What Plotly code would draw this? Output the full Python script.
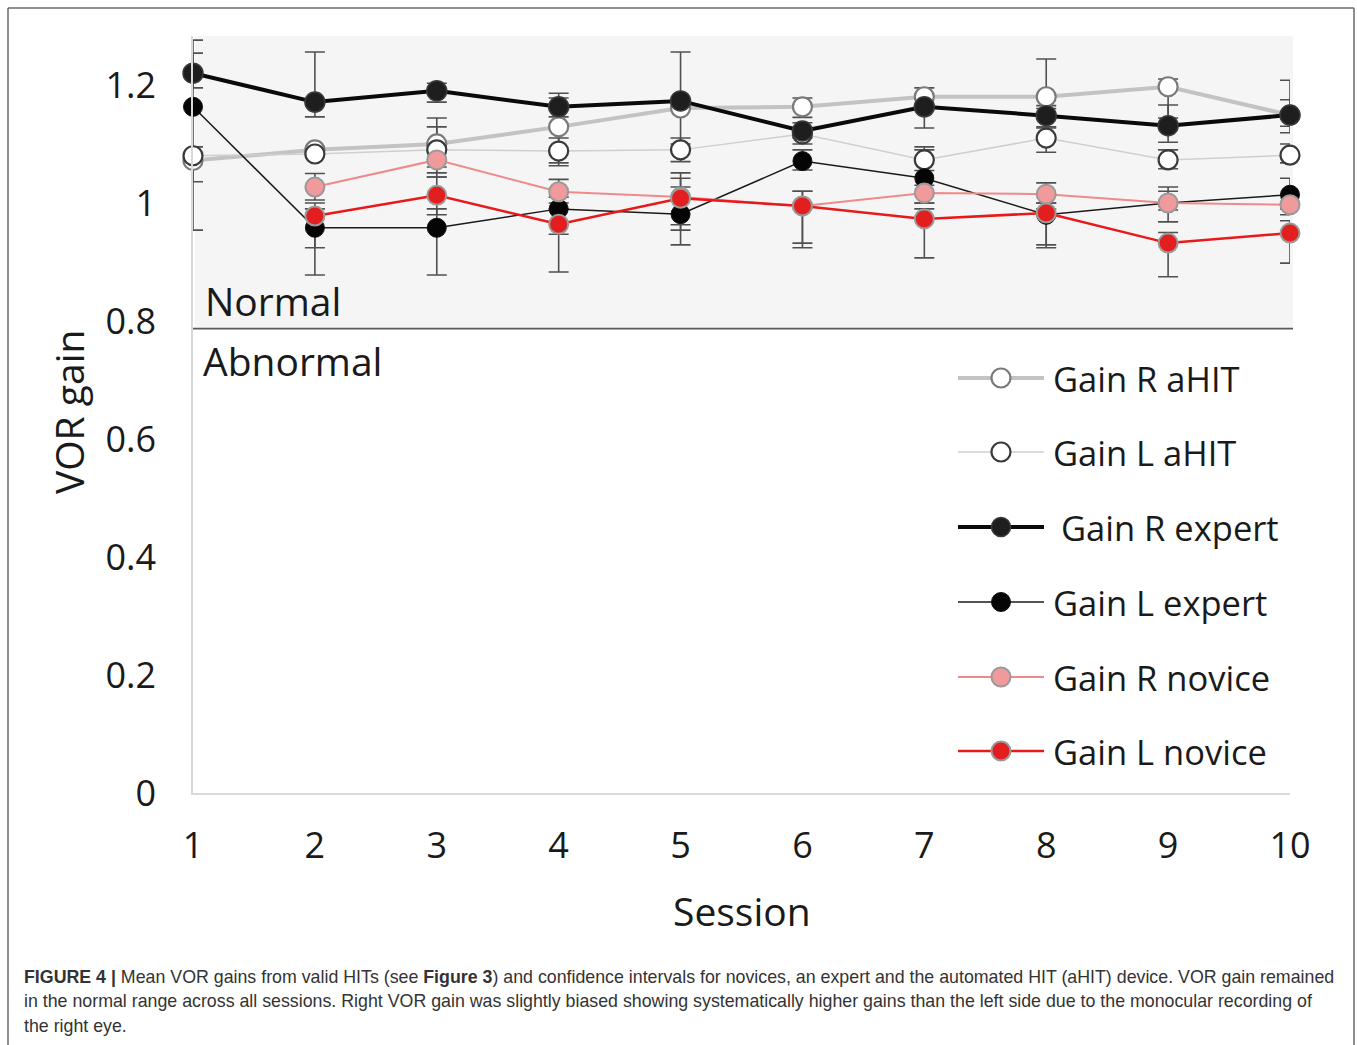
import plotly.graph_objects as go

# ---------------- data ----------------
sessions = [1, 2, 3, 4, 5, 6, 7, 8, 9, 10]
x_ticktext = ["1", "2", "3", "4", "5", "6", "7", "8", "9", "10"]
y_tickvals = [0, 0.2, 0.4, 0.6, 0.8, 1.0, 1.2]
y_ticktext = ["0", "0.2", "0.4", "0.6", "0.8", "1", "1.2"]

gain_r_ahit = [1.072, 1.090, 1.100, 1.129, 1.161, 1.163, 1.180, 1.180, 1.197, 1.149]
gain_l_ahit = [1.080, 1.083, 1.090, 1.088, 1.090, 1.117, 1.073, 1.110, 1.073, 1.081]
gain_r_expert = [1.220, 1.171, 1.190, 1.163, 1.173, 1.122, 1.163, 1.148, 1.131, 1.149]
gain_l_expert = [1.163, 0.958, 0.958, 0.990, 0.981, 1.071, 1.042, 0.980, 1.000, 1.014]
gain_r_novice = [None, 1.027, 1.073, 1.019, 1.010, 0.995, 1.017, 1.015, 1.000, 0.997]
gain_l_novice = [None, 0.978, 1.013, 0.964, 1.008, 0.995, 0.973, 0.983, 0.932, 0.949]

# confidence interval bounds (upper / lower)
r_ahit_hi = [1.095, None, 1.144, 1.178, None, 1.178, 1.195, 1.244, 1.210, 1.175]
r_ahit_lo = [0.954, None, 1.061, 1.068, None, 1.145, 1.165, 1.160, 1.144, 1.130]
l_ahit_hi = [None, None, 1.129, 1.110, 1.110, 1.127, 1.095, 1.127, 1.090, 1.100]
l_ahit_lo = [None, None, 1.051, 1.063, 1.070, 1.100, 1.055, 1.086, 1.058, 1.068]
r_exp_hi = [1.254, 1.256, 1.203, 1.186, 1.256, 1.136, 1.180, 1.165, 1.166, 1.208]
r_exp_lo = [1.195, 1.146, 1.171, 1.146, 1.100, 1.110, 1.127, 1.129, 1.103, 1.119]
l_exp_hi = [1.276, 0.990, 0.990, 1.010, 1.042, 1.090, 1.090, 1.000, 1.020, 1.042]
l_exp_lo = [1.036, 0.924, 0.878, 0.947, 0.954, 1.056, 1.000, 0.929, 0.988, 0.990]
r_nov_hi = [None, 1.050, 1.100, 1.040, 1.051, 1.020, 1.030, 1.034, 1.027, 1.015]
r_nov_lo = [None, 1.005, 1.044, 1.000, 0.963, 0.932, 1.000, 0.990, 0.968, 0.980]
l_nov_hi = [None, 1.000, 1.044, 0.990, 1.027, 1.020, 0.990, 1.000, 0.950, 0.970]
l_nov_lo = [None, 0.878, 0.980, 0.883, 0.929, 0.924, 0.907, 0.924, 0.875, 0.898]

normal_threshold = 0.787
y_top = 1.283

series_names = ["Gain R aHIT", "Gain L aHIT", "Gain R expert",
                "Gain L expert", "Gain R novice", "Gain L novice"]

# ---------------- layout geometry (reference pixel coords) ----------------
W, H = 1357, 1045
PLOT_L, PLOT_R, PLOT_T, PLOT_B = 193, 1290, 36, 793
ML, MT = PLOT_L, PLOT_T
MR, MB = W - PLOT_R, H - PLOT_B
PW, PH = PLOT_R - PLOT_L, PLOT_B - PLOT_T

def px2x(px):
    return (px - PLOT_L) / PW

def py2y(py):
    return (PLOT_B - py) / PH

FONT = "Open Sans, Noto Sans, DejaVu Sans, sans-serif"

styles = [
    dict(line=dict(color="#c3c3c3", width=4), marker=dict(color="white", size=19, line=dict(color="#7a7a7a", width=2.2))),
    dict(line=dict(color="#cfcfcf", width=1.5), marker=dict(color="white", size=19, line=dict(color="#3a3a3a", width=2.2))),
    dict(line=dict(color="#0a0a0a", width=4), marker=dict(color="#1e1e1e", size=20, line=dict(color="#3a3a3a", width=1.5))),
    dict(line=dict(color="#1a1a1a", width=1.5), marker=dict(color="#050505", size=19, line=dict(color="#111111", width=1))),
    dict(line=dict(color="#f08a8a", width=2), marker=dict(color="#f09a9c", size=19, line=dict(color="#9a9a9a", width=2))),
    dict(line=dict(color="#e8191a", width=2.5), marker=dict(color="#e31e1e", size=19, line=dict(color="#9a9a9a", width=2))),
]

values = [gain_r_ahit, gain_l_ahit, gain_r_expert, gain_l_expert, gain_r_novice, gain_l_novice]
highs = [r_ahit_hi, l_ahit_hi, r_exp_hi, l_exp_hi, r_nov_hi, l_nov_hi]
lows = [r_ahit_lo, l_ahit_lo, r_exp_lo, l_exp_lo, r_nov_lo, l_nov_lo]

fig = go.Figure()

# error bars (clipped to plot area, drawn underneath)
for vals, hi, lo in zip(values, highs, lows):
    plus = [(h - v) if (h is not None and v is not None) else None for h, v in zip(hi, vals)]
    minus = [(v - l) if (l is not None and v is not None) else None for l, v in zip(lo, vals)]
    fig.add_trace(go.Scatter(
        x=sessions, y=vals, mode="markers",
        marker=dict(size=1, color="rgba(0,0,0,0)"),
        error_y=dict(type="data", symmetric=False, array=plus, arrayminus=minus,
                     color="#505050", thickness=1.6, width=10),
        cliponaxis=True, showlegend=False, hoverinfo="skip"))

# series
for name, vals, st in zip(series_names, values, styles):
    fig.add_trace(go.Scatter(
        x=sessions, y=vals, name=name, mode="lines+markers",
        line=st["line"], marker=st["marker"], cliponaxis=False, showlegend=False))

frame_line = dict(color="#6a6a6a", width=1.5)
shapes = [
    # normal range shading
    dict(type="rect", xref="paper", yref="y", x0=px2x(195), x1=px2x(1293),
         y0=normal_threshold, y1=y_top, fillcolor="#f5f5f5", line=dict(width=0), layer="below"),
    # threshold line
    dict(type="line", xref="paper", yref="y", x0=0, x1=px2x(1293),
         y0=normal_threshold, y1=normal_threshold, line=dict(color="#5a5a5a", width=1.6), layer="below"),
    # figure frame (open at the bottom)
    dict(type="line", xref="paper", yref="paper", x0=px2x(8), x1=px2x(1354),
         y0=py2y(8), y1=py2y(8), line=frame_line),
    dict(type="line", xref="paper", yref="paper", x0=px2x(8), x1=px2x(8),
         y0=py2y(8), y1=py2y(1046), line=frame_line),
    dict(type="line", xref="paper", yref="paper", x0=px2x(1354), x1=px2x(1354),
         y0=py2y(8), y1=py2y(1046), line=frame_line),
]

annotations = [
    dict(text="Normal", x=px2x(203), y=py2y(300), xref="paper", yref="paper", xanchor="left",
         yanchor="middle", showarrow=False, font=dict(family=FONT, size=39, color="#1a1a1a")),
    dict(text="Abnormal", x=px2x(201), y=py2y(360), xref="paper", yref="paper", xanchor="left",
         yanchor="middle", showarrow=False, font=dict(family=FONT, size=39, color="#1a1a1a")),
    dict(text="Session", x=px2x(742), y=py2y(910), xref="paper", yref="paper", xanchor="center",
         yanchor="middle", showarrow=False, font=dict(family=FONT, size=39, color="#1a1a1a")),
    dict(text="VOR gain", x=px2x(68), y=py2y(412), xref="paper", yref="paper", xanchor="center",
         yanchor="middle", showarrow=False, textangle=-90, font=dict(family=FONT, size=39, color="#1a1a1a")),
]

# manual legend
legend_rows = [378, 452, 527, 602, 677, 751]
legend_text_x = [1051, 1051, 1059, 1051, 1051, 1051]
for name, st, row, tx in zip(series_names, styles, legend_rows, legend_text_x):
    shapes.append(dict(type="line", xref="paper", yref="paper", x0=px2x(958), x1=px2x(1044),
                       y0=py2y(row), y1=py2y(row), line=dict(color=st["line"]["color"], width=st["line"]["width"])))
    r = 9.5
    shapes.append(dict(type="circle", xref="paper", yref="paper", xsizemode="pixel", ysizemode="pixel",
                       xanchor=px2x(1001), yanchor=py2y(row), x0=-r, x1=r, y0=-r, y1=r,
                       fillcolor=st["marker"]["color"],
                       line=dict(color=st["marker"]["line"]["color"], width=st["marker"]["line"]["width"])))
    annotations.append(dict(text=name, x=px2x(tx), y=py2y(row), xref="paper", yref="paper",
                            xanchor="left", yanchor="middle", showarrow=False,
                            font=dict(family=FONT, size=34.5, color="#1a1a1a")))

# caption
caption_lines = [
    "<b>FIGURE 4 |</b> Mean VOR gains from valid HITs (see <b>Figure 3</b>) and confidence intervals for novices, an expert and the automated HIT (aHIT) device. VOR gain remained",
    "in the normal range across all sessions. Right VOR gain was slightly biased showing systematically higher gains than the left side due to the monocular recording of",
    "the right eye.",
]
caption_y = [977, 1001, 1026]
for line_text, cy in zip(caption_lines, caption_y):
    annotations.append(dict(text=line_text, x=px2x(22), y=py2y(cy), xref="paper", yref="paper",
                            xanchor="left", yanchor="middle", showarrow=False,
                            font=dict(family="Liberation Sans, Arial, sans-serif", size=17.8, color="#333333")))

fig.update_layout(
    width=W, height=H,
    margin=dict(l=ML, r=MR, t=MT, b=MB, pad=0),
    paper_bgcolor="white", plot_bgcolor="white",
    showlegend=False,
    shapes=shapes, annotations=annotations,
    xaxis=dict(range=[1, 10], tickvals=sessions, ticktext=x_ticktext, showgrid=False, zeroline=False,
               showline=True, linecolor="#d9d9d9", linewidth=1.5, ticks="",
               ticklabelstandoff=20,
               tickfont=dict(family=FONT, size=36, color="#1a1a1a")),
    yaxis=dict(range=[0, y_top], tickvals=y_tickvals, ticktext=y_ticktext, showgrid=False, zeroline=False,
               showline=True, linecolor="#d9d9d9", linewidth=1.5, ticks="",
               ticklabelstandoff=28,
               tickfont=dict(family=FONT, size=36, color="#1a1a1a")),
)

fig.write_html(
    "out.html",
    config={"displayModeBar": False},
    post_script="document.body.style.margin='0px';document.body.style.overflow='hidden';",
)
